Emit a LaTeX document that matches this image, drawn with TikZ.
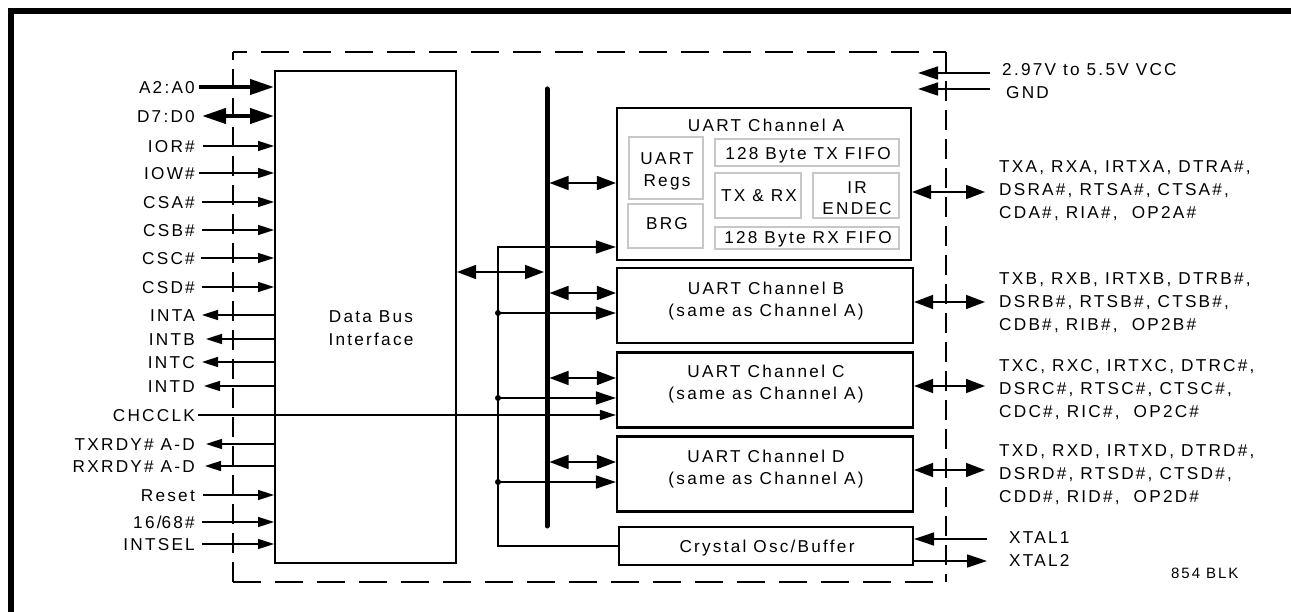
\documentclass[tikz,border=0pt]{standalone}
\usepackage{fontspec}
\setmainfont{Liberation Sans}[LetterSpace=13]
\usetikzlibrary{arrows.meta}
\begin{document}
\begin{tikzpicture}[x=1pt,y=-1pt,
  font=\fontsize{17.2}{23}\selectfont,
  txt/.style={inner sep=0pt, text height=12.3pt, text depth=0pt},
  lab/.style={txt, anchor=east},
  rlab/.style={txt, anchor=west},
  thinw/.style={line width=1.6pt},
  sh/.style={thinw, -{Triangle[length=16pt,width=10pt]}},
  bh/.style={thinw, -{Triangle[length=20pt,width=13pt]}},
  dbh/.style={thinw, {Triangle[length=19pt,width=14pt]}-{Triangle[length=19pt,width=14pt]}},
  blk/.style={draw, line width=2.2pt, inner sep=0pt},
  gbox/.style={draw=black!22, line width=1.5pt, inner sep=0pt},
  dsh/.style={line width=1.5pt, dash pattern=on 28pt off 14pt},
  dsv/.style={line width=1.5pt, dash pattern=on 20pt off 9pt}
]
\useasboundingbox (0,0) rectangle (1291,612);
\fill[white] (0,0) rectangle (1291,612);
% outer frame
\draw[line width=5.7pt] (11,620) -- (11,11) -- (1295,11);
% dashed chip outline
\coordinate (dTL) at (233,52);
\coordinate (dTR) at (946,52);
\coordinate (dBR) at (946,582);
\coordinate (dBL) at (233,582);
\draw[dsh, dash phase=14pt] (dTL) -- (dTR);
\draw[dsv] (dTR) -- (dBR);
\draw[dsh] (dBL) -- (dBR);
\draw[dsv] (dBL) -- (dTL);

% Data bus interface
\node[draw, line width=2pt, inner sep=0pt, minimum width=181pt, minimum height=492pt] (dbi) at (365.5,317) {};
\node[txt] (dbt1) at (371,316) {Data Bus};
\node[txt] (dbt2) at (371,339) {Interface};

% channel boxes
\node[blk, minimum width=294pt, minimum height=152pt] (chA) at (764,184) {};
\node[blk, minimum width=296pt, minimum height=75pt] (chB) at (765,305.5) {};
\node[blk, minimum width=296pt, minimum height=75pt] (chC) at (765,390) {};
\node[blk, minimum width=296pt, minimum height=75pt] (chD) at (765,474) {};
\node[blk, minimum width=294pt, minimum height=38pt] (xtal) at (766,546) {};

\node[txt] (chAt) at (766,125) {UART Channel A};
\node[txt] (chBt1) at (766,288) {UART Channel B};
\node[txt] (chBt2) at (766,310) {(same as Channel A)};
\node[txt] (chCt1) at (766,371) {UART Channel C};
\node[txt] (chCt2) at (766,393) {(same as Channel A)};
\node[txt] (chDt1) at (766,456) {UART Channel D};
\node[txt] (chDt2) at (766,478) {(same as Channel A)};
\node[txt] (xtalt) at (767,546) {Crystal Osc/Buffer};

% channel A internals
\node[gbox, minimum width=74pt, minimum height=62pt] (regs) at (666,168) {};
\node[txt] (regst1) at (667,158) {UART};
\node[txt] (regst2) at (667,180) {Regs};
\node[gbox, minimum width=75pt, minimum height=44pt] (brg) at (665.5,226) {};
\node[txt] (brgt) at (667,223) {BRG};
\node[gbox, minimum width=184pt, minimum height=27pt] (txf) at (807,152.5) {};
\node[txt] (txft) at (808,153) {128 Byte TX FIFO};
\node[gbox, minimum width=86pt, minimum height=45pt] (txrx) at (758,195.5) {};
\node[txt] (txrxt) at (759,195) {TX \& RX};
\node[gbox, minimum width=86pt, minimum height=45pt] (ir) at (856,195.5) {};
\node[txt] (irt1) at (857,187) {IR};
\node[txt] (irt2) at (857,208.5) {ENDEC};
\node[gbox, minimum width=184pt, minimum height=22pt] (rxf) at (807,238) {};
\node[txt] (rxft) at (808,237) {128 Byte RX FIFO};

% left pins: inputs
\foreach \n/\y/\g/\t in {pIOR/146/8/IOR\#, pIOW/173/4/IOW\#, pCSA/202/7/CSA\#, pCSB/230/7/CSB\#,
    pCSC/258/6/CSC\#, pCSD/287/7/CSD\#, pRST/495/8/Reset, p1668/522/7/16\slash 68\#, pISEL/544/7/INTSEL} {
  \node[lab] (\n) at (195,\y) {\t};
  \draw[sh] ([xshift=\g pt]\n.east) -- (\n.east -| dbi.west);
}
% left pins: outputs
\foreach \n/\y/\g/\t in {pINTA/315/7/INTA, pINTB/339/11/INTB, pINTC/362/7/INTC, pINTD/386/9/INTD,
    pTXR/444/11/TXRDY\# A-D, pRXR/466/10/RXRDY\# A-D} {
  \node[lab] (\n) at (195,\y) {\t};
  \draw[sh] (\n.east -| dbi.west) -- ([xshift=\g pt]\n.east);
}
% address / data buses
\node[lab] (pA) at (195,87) {A2:A0};
\draw[line width=4pt, -{Triangle[length=24pt,width=15pt]}] ([xshift=4pt]pA.east) -- (pA.east -| dbi.west);
\node[lab] (pD) at (195,116) {D7:D0};
\draw[line width=4pt, {Triangle[length=24pt,width=15pt]}-{Triangle[length=24pt,width=15pt]}] ([xshift=7pt]pD.east) -- (pD.east -| dbi.west);
% CHCCLK
\node[lab] (pCLK) at (195,415) {CHCCLK};
\draw[sh] ([xshift=3pt]pCLK.east) -- (pCLK.east -| chC.west);

% internal bus
\coordinate (busT) at (547,89);
\coordinate (busB) at (547,526);
\coordinate (busL) at (544,0);
\coordinate (busR) at (549.5,0);
\draw[line width=5pt, line cap=round] (busT) -- (busB);
\draw[dbh] (dbi.east |- 0,272) -- (busL |- 0,272);
\draw[dbh] (busR |- 0,183) -- (chA.west |- 0,183);
\draw[dbh] (busR |- 0,293) -- (chB.west |- 0,293);
\draw[dbh] (busR |- 0,378) -- (chC.west |- 0,378);
\draw[dbh] (busR |- 0,462) -- (chD.west |- 0,462);

% clock net
\coordinate (nt) at (498,247);
\draw[bh] (xtal.west) -| (nt) -- (nt -| chA.west);
\foreach \c/\y in {chB/313, chC/398, chD/482} {
  \fill (nt |- 0,\y) circle (3pt);
  \draw[bh] (nt |- 0,\y) -- (\c.west |- 0,\y);
}

% power
\coordinate (vccR) at (990,73);
\coordinate (vccL) at (918,73);
\coordinate (gndR) at (990,89);
\coordinate (gndL) at (918,89);
\draw[bh] (vccR) -- (vccL);
\draw[bh] (gndR) -- (gndL);
\node[rlab] (vcct) at (1002,69) {2.97V to 5.5V VCC};
\node[rlab] (gndt) at (1006,92) {GND};

% serial pins
\coordinate (rA) at (985,192);
\coordinate (rB) at (985,302);
\coordinate (rC) at (985,386);
\coordinate (rD) at (985,470);
\draw[dbh] (chA.east |- rA) -- (rA);
\draw[dbh] (chB.east |- rB) -- (rB);
\draw[dbh] (chC.east |- rC) -- (rC);
\draw[dbh] (chD.east |- rD) -- (rD);
\foreach \n/\y/\L in {A/166/A, B/278/B, C/365/C, D/450/D} {
  \node[rlab] (s\n1) at (999,\y) {TX\L, RX\L, IRTX\L, DTR\L\#,};
  \node[rlab] (s\n2) at (999,\y+23) {DSR\L\#, RTS\L\#, CTS\L\#,};
  \node[rlab] (s\n3) at (999,\y+46) {CD\L\#, RI\L\#,\ \ OP2\L\#};
}

% crystal pins
\coordinate (x1R) at (987,539);
\coordinate (x2R) at (987,561);
\draw[bh] (x1R) -- (xtal.east |- x1R);
\draw[bh] (xtal.east |- x2R) -- (x2R);
\node[rlab] (x1t) at (1009,537) {XTAL1};
\node[rlab] (x2t) at (1009,560) {XTAL2};

\node[rlab, font=\fontsize{15}{17}\selectfont, text height=10.7pt] (blk) at (1171,573) {854 BLK};
\end{tikzpicture}
\end{document}
